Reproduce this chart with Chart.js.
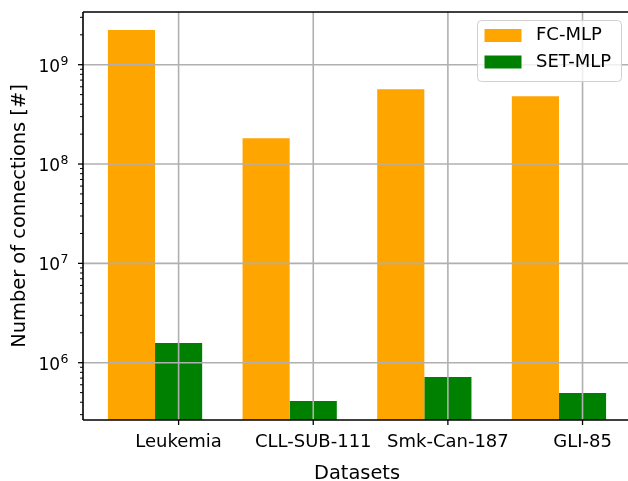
<!DOCTYPE html>
<html>
<head>
<meta charset="utf-8">
<script src="https://cdn.jsdelivr.net/npm/chart.js@4/dist/chart.umd.min.js"></script>
<style>
  html, body { margin: 0; padding: 0; background: #ffffff; }
  #wrap { width: 628px; height: 481px; overflow: hidden; position: relative; }
  canvas { display: block; }
</style>
</head>
<body>
<div id="wrap"><canvas id="chart" width="631" height="481"></canvas></div>
<script>
// Connections per network, by dataset
const datasetNames = ['Leukemia', 'CLL-SUB-111', 'Smk-Can-187', 'GLI-85'];
const fcMlp  = [2.23e9, 1.82e8, 5.65e8, 4.81e8];
const setMlp = [1.58e6, 4.11e5, 7.18e5, 4.95e5];
const seriesNames = ['FC-MLP', 'SET-MLP'];
const seriesColors = ['#ffa500', '#008000'];
const yMajorExponents = [6, 7, 8, 9];

const FONT = 'DejaVu Sans';
const BAR_W = 0.35;           // width of one bar in x units
const TICK_SHIFT = BAR_W / 2;  // tick sits at the centre of the second bar

// grid, spines, tick marks, y tick labels and the legend
const decor = {
  id: 'decor',
  afterDatasetsDraw(chart) {
    const { ctx, chartArea: a, scales: { x, y } } = chart;
    ctx.save();

    // grid lines (drawn above the bars)
    ctx.strokeStyle = '#b0b0b0';
    ctx.lineWidth = 1.6;
    yMajorExponents.forEach(e => {
      const py = y.getPixelForValue(Math.pow(10, e));
      ctx.beginPath(); ctx.moveTo(a.left, py); ctx.lineTo(a.right, py); ctx.stroke();
    });
    datasetNames.forEach((_, i) => {
      const px = x.getPixelForValue(i + TICK_SHIFT);
      ctx.beginPath(); ctx.moveTo(px, a.top); ctx.lineTo(px, a.bottom); ctx.stroke();
    });

    // spines
    ctx.strokeStyle = '#000000';
    ctx.lineWidth = 1.6;
    ctx.beginPath();
    ctx.moveTo(a.left, a.top); ctx.lineTo(a.right, a.top);
    ctx.moveTo(a.left, a.top); ctx.lineTo(a.left, a.bottom);
    ctx.moveTo(a.left, a.bottom); ctx.lineTo(a.right, a.bottom);
    ctx.moveTo(a.right, a.top); ctx.lineTo(a.right, a.bottom);
    ctx.stroke();

    // x tick marks
    ctx.lineWidth = 1.3;
    datasetNames.forEach((_, i) => {
      const px = x.getPixelForValue(i + TICK_SHIFT);
      ctx.beginPath(); ctx.moveTo(px, a.bottom); ctx.lineTo(px, a.bottom + 5); ctx.stroke();
    });

    // y tick marks, major and minor
    for (let e = 4; e <= 10; e++) {
      for (let m = 1; m <= 9; m++) {
        const v = m * Math.pow(10, e);
        if (v < y.min || v > y.max) continue;
        const py = y.getPixelForValue(v);
        const len = m === 1 ? 5 : 3;
        ctx.lineWidth = m === 1 ? 1.3 : 1;
        ctx.beginPath(); ctx.moveTo(a.left - len, py); ctx.lineTo(a.left, py); ctx.stroke();
      }
    }

    // y tick labels: 10 with a raised exponent
    ctx.fillStyle = '#000000';
    ctx.textAlign = 'right';
    ctx.textBaseline = 'alphabetic';
    const labelRight = a.left - 14.5;
    yMajorExponents.forEach(e => {
      const py = y.getPixelForValue(Math.pow(10, e));
      ctx.font = '12.5px "' + FONT + '"';
      const expText = String(e);
      const expW = ctx.measureText(expText).width;
      ctx.fillText(expText, labelRight, py);
      ctx.font = '17px "' + FONT + '"';
      ctx.fillText('10', labelRight - expW - 0.5, py + 7);
    });

    // legend
    const boxW = 144, boxH = 61;
    const bx = a.right - 10 - boxW, by = a.top + 8;
    ctx.beginPath();
    ctx.roundRect(bx + 0.5, by + 0.5, boxW, boxH, 4);
    ctx.fillStyle = 'rgba(255,255,255,0.8)';
    ctx.fill();
    ctx.strokeStyle = '#d0d0d0';
    ctx.lineWidth = 1;
    ctx.stroke();
    ctx.textAlign = 'left';
    ctx.textBaseline = 'middle';
    ctx.font = '18px "' + FONT + '"';
    chart.data.datasets.forEach((ds, k) => {
      const rowY = by + 15.5 + k * 26.5;
      ctx.fillStyle = ds.backgroundColor;
      ctx.fillRect(bx + 7.5, rowY - 6.5, 37, 13);
      ctx.fillStyle = '#000000';
      ctx.fillText(ds.label, bx + 59, rowY);
    });

    ctx.restore();
  }
};

const toPoints = vals => vals.map((v, i) => ({ x: i, y: v }));

new Chart(document.getElementById('chart'), {
  type: 'bar',
  data: {
    datasets: [
      { label: seriesNames[0], data: toPoints(fcMlp),  backgroundColor: seriesColors[0] },
      { label: seriesNames[1], data: toPoints(setMlp), backgroundColor: seriesColors[1] }
    ]
  },
  options: {
    responsive: false,
    animation: false,
    devicePixelRatio: 1,
    categoryPercentage: BAR_W * 2,
    barPercentage: 1.0,
    layout: { padding: { top: 12, left: 0, right: 0, bottom: 0 } },
    plugins: { legend: { display: false }, tooltip: { enabled: false } },
    scales: {
      x: {
        type: 'linear',
        min: -0.535,
        max: 3.535,
        offset: false,
        grid: { display: false, drawTicks: false },
        border: { display: false },
        afterBuildTicks: s => { s.ticks = datasetNames.map((_, i) => ({ value: i + TICK_SHIFT })); },
        ticks: {
          autoSkip: false,
          maxRotation: 0,
          padding: 12,
          color: '#000000',
          font: { family: FONT, size: 18 },
          callback: (v, idx) => datasetNames[idx]
        },
        title: {
          display: true,
          text: 'Datasets',
          color: '#000000',
          font: { family: FONT, size: 19.4, lineHeight: 1 },
          padding: { top: 0, bottom: -2.5 }
        },
        afterFit: s => { s.height = 61; }
      },
      y: {
        type: 'logarithmic',
        min: 2.65e5,
        max: 3.394e9,
        grid: { display: false, drawTicks: false },
        border: { display: false },
        ticks: { display: false },
        title: {
          display: true,
          text: 'Number of connections [#]',
          color: '#000000',
          font: { family: FONT, size: 19.4, lineHeight: 1 },
          padding: { top: 10, bottom: 0 }
        },
        afterFit: s => { s.width = 83; }
      }
    }
  },
  plugins: [decor]
});
</script>
</body>
</html>
